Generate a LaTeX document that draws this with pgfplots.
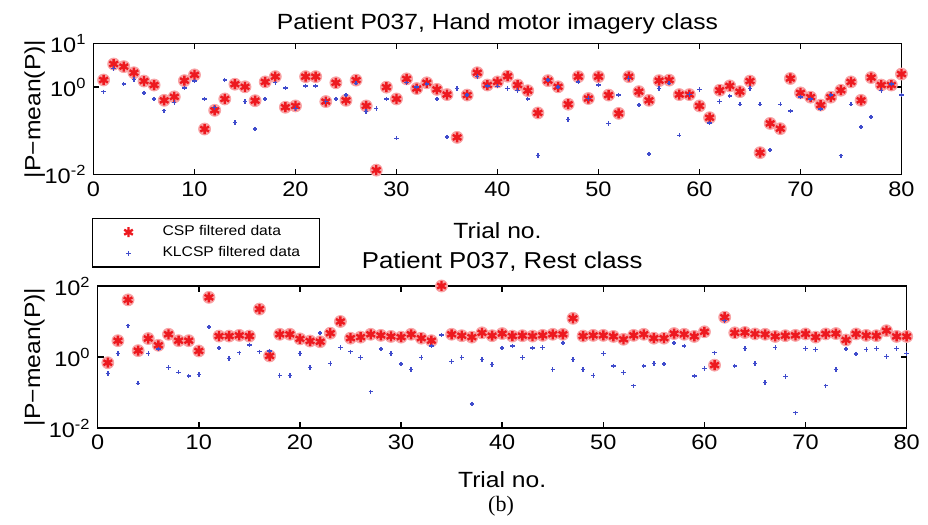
\documentclass[border=0pt]{standalone}
\usepackage{fontspec}
\setmainfont{Liberation Sans}[FakeStretch=1.12]
\newfontfamily\capfont{Liberation Serif}
\usepackage{pgfplots}
\usepackage{pgfplotstable}
\pgfplotsset{compat=1.18}

\definecolor{cspred}{rgb}{0.93,0.1,0.12}
\definecolor{klblue}{rgb}{0.25,0.3,0.8}

% |P-mean(P)| per trial, hand motor imagery class
\pgfplotstableread{
n csp klcsp
1 1.46 0.785
2 3.39 2.69
3 2.95 1.17
4 2.14 1.51
5 1.38 0.74
6 1.12 0.537
7 0.50 0.288
8 0.60 0.447
9 1.41 0.955
10 1.91 1.38
11 0.110 0.537
12 0.295 0.339
13 0.537 1.45
14 1.17 0.155
15 1.02 0.468
16 0.49 0.110
17 1.32 0.537
18 1.74 1.26
19 0.347 0.955
20 0.372 0.324
21 1.74 1.07
22 1.74 1.07
23 0.468 0.468
24 1.26 0.537
25 0.50 0.66
26 1.45 1.23
27 0.372 0.275
28 0.0126 0.324
29 1.0 0.537
30 0.537 0.0676
31 1.55 1.26
32 0.93 1.0
33 1.26 1.17
34 0.89 0.537
35 0.676 0.0724
36 0.0708 0.93
37 0.66 0.66
38 2.14 1.74
39 1.12 1.07
40 1.32 1.05
41 1.78 0.93
42 1.12 0.83
43 0.83 0.537
44 0.257 0.0275
45 1.41 1.45
46 1.02 1.0
47 0.407 0.182
48 1.74 1.32
49 0.55 0.55
50 1.74 1.12
51 0.66 0.148
52 0.251 0.66
53 1.74 1.58
54 0.79 0.389
55 0.50 0.0295
56 1.41 0.93
57 1.45 1.23
58 0.676 0.0794
59 0.676 0.676
60 0.372 0.89
61 0.20 0.151
62 0.85 0.468
63 1.07 0.63
64 0.79 0.407
65 1.38 0.93
66 0.0316 0.407
67 0.148 0.0363
68 0.112 0.407
69 1.58 0.282
70 0.74 0.60
71 0.59 0.537
72 0.389 0.316
73 0.59 0.66
74 0.85 0.0269
75 1.32 0.407
76 0.50 0.123
77 1.66 0.209
78 1.12 0.83
79 1.12 1.17
80 2.0 0.66
}\motortab

% rest class
\pgfplotstableread{
n csp klcsp
1 0.69 0.347
2 2.88 1.26
3 40.7 7.59
4 1.51 0.182
5 3.31 1.26
6 2.14 1.66
7 4.37 0.50
8 2.88 0.372
9 2.88 0.288
10 1.48 0.324
11 47.9 6.92
12 3.89 1.78
13 3.89 0.91
14 4.07 1.32
15 3.89 2.19
16 22.4 1.41
17 1.07 1.48
18 4.37 0.302
19 4.37 0.302
20 3.24 1.26
21 2.82 0.50
22 2.69 4.79
23 4.68 0.66
24 10.0 1.86
25 3.39 1.41
26 3.63 0.98
27 4.37 0.105
28 4.07 1.66
29 3.80 1.26
30 3.63 0.63
31 4.37 0.447
32 3.39 0.98
33 2.88 2.04
34 100 4.17
35 4.37 0.74
36 3.98 0.98
37 3.63 0.0479
38 4.79 0.85
39 3.98 0.62
40 4.57 1.78
41 3.89 2.04
42 3.98 0.98
43 3.89 1.78
44 4.07 1.86
45 4.37 0.447
46 4.37 2.51
47 12.3 0.85
48 3.89 0.447
49 4.07 0.302
50 4.07 1.26
51 3.80 0.56
52 3.16 0.363
53 4.07 0.155
54 4.37 0.56
55 3.39 0.66
56 3.39 0.63
57 4.57 2.45
58 4.37 2.04
59 3.80 0.288
60 5.13 0.479
61 0.59 1.32
62 13.2 10.5
63 4.79 0.56
64 4.90 1.74
65 4.47 0.66
66 4.37 0.191
67 3.80 1.86
68 3.98 0.282
69 4.07 0.0269
70 4.47 1.74
71 3.63 1.62
72 4.47 0.155
73 4.57 0.447
74 3.02 1.66
75 4.47 1.20
76 4.07 1.62
77 3.98 1.74
78 5.50 1.02
79 3.80 1.74
80 3.80 1.26
}\resttab

\begin{document}
\begin{tikzpicture}
\path[use as bounding box] (0pt,0pt) rectangle (464pt,262.5pt);

\begin{axis}[
  scale only axis,
  at={(46.75pt,175.25pt)}, anchor=south west,
  width=404pt, height=65.5pt,
  xmin=0, xmax=80, xtick={0,10,...,80},
  ymode=log, yminorticks=false,
  ymin=1e-2, ymax=10,
  ytick={0.01,1,10},
  yticklabels={10\textsuperscript{-2},10\textsuperscript{0},10\textsuperscript{1}},
  axis line style={line width=0.75pt},
  major tick style={black, line width=0.75pt},
  major tick length=3pt,
  tick label style={font=\fontsize{10.5}{12}\selectfont},
  clip=false,
  xlabel={Trial no.},
  xlabel style={at={(axis description cs:0.5,0)}, anchor=base, yshift=-32pt,
    font=\fontsize{11}{13}\selectfont},
  ylabel={|P−mean(P)|},
  ylabel style={at={(axis description cs:-0.0656,0.5)}, anchor=base,
    font=\fontsize{11}{13}\selectfont},
  every axis title shift=0pt,
  title={Patient P037, Hand motor imagery class},
  title style={at={(axis description cs:0.5,1)}, anchor=base, yshift=6.75pt,
    font=\fontsize{11}{13}\selectfont},
  legend style={at={(axis description cs:-0.002,-0.332)}, anchor=north west,
    draw=black, line width=0.65pt, font=\fontsize{7}{8}\selectfont,
    inner xsep=3pt, inner ysep=1.5pt, row sep=0pt},
  legend cell align=left,
  legend image code/.code={
    \path[draw=none] (0pt,0pt) -- (30pt,0pt);
    \draw[#1] plot[only marks] coordinates {(15pt,0pt)};},
  /pgf/number format/assume math mode=true,
]
\addplot[only marks, mark=*, mark size=3pt, color=cspred!40, forget plot]
  table[x=n, y=csp] {\motortab};
\addplot[only marks, mark=asterisk, mark size=2.5pt, color=cspred, line width=1.2pt]
  table[x=n, y=csp] {\motortab};
\addplot[only marks, mark=+, mark size=1.1pt, color=klblue, line width=0.7pt]
  table[x=n, y=klcsp] {\motortab};
\legend{CSP filtered data\kern4.5pt\null, KLCSP filtered data\kern4.5pt\null}
\end{axis}

\begin{axis}[
  scale only axis,
  at={(48.85pt,48.5pt)}, anchor=south west,
  width=404.5pt, height=71pt,
  xmin=0, xmax=80, xtick={0,10,...,80},
  ymode=log, yminorticks=false,
  ymin=1e-2, ymax=100,
  ytick={0.01,1,100},
  yticklabels={10\textsuperscript{-2},10\textsuperscript{0},10\textsuperscript{2}},
  axis line style={line width=0.75pt},
  major tick style={black, line width=0.75pt},
  major tick length=3pt,
  tick label style={font=\fontsize{10.5}{12}\selectfont},
  clip=false,
  xlabel={Trial no.},
  xlabel style={at={(axis description cs:0.5,0)}, anchor=base, yshift=-30pt,
    font=\fontsize{11}{13}\selectfont},
  ylabel={|P−mean(P)|},
  ylabel style={at={(axis description cs:-0.0713,0.5)}, anchor=base,
    font=\fontsize{11}{13}\selectfont},
  every axis title shift=0pt,
  title={Patient P037, Rest class},
  title style={at={(axis description cs:0.5,1)}, anchor=base, yshift=8.85pt,
    font=\fontsize{11.5}{13}\selectfont},
  /pgf/number format/assume math mode=true,
]
\addplot[only marks, mark=*, mark size=3pt, color=cspred!40, forget plot]
  table[x=n, y=csp] {\resttab};
\addplot[only marks, mark=asterisk, mark size=2.5pt, color=cspred, line width=1.2pt]
  table[x=n, y=csp] {\resttab};
\addplot[only marks, mark=+, mark size=1.1pt, color=klblue, line width=0.7pt]
  table[x=n, y=klcsp] {\resttab};
\end{axis}

\node[anchor=base, font=\capfont\fontsize{11}{13}\selectfont] at (250.5pt,6.5pt) {(b)};
\end{tikzpicture}
\end{document}
